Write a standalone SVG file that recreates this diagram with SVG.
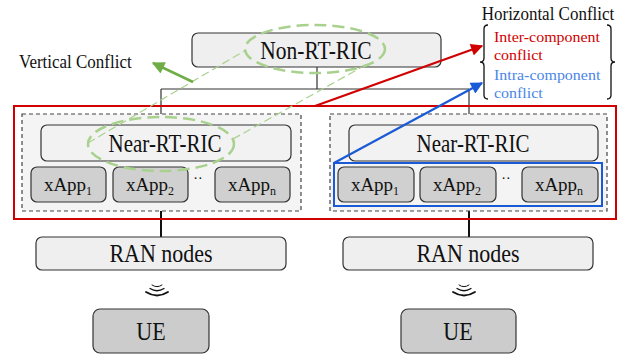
<svg xmlns="http://www.w3.org/2000/svg" width="638" height="356" viewBox="0 0 638 356" font-family="'Liberation Serif', 'DejaVu Serif', serif">
<defs>
<style>
text{font-family:'Liberation Serif','DejaVu Serif',serif;fill:#111}
.box{fill:#efefef;stroke:#333;stroke-width:1.2}
.app{fill:#d0d0d0;stroke:#333;stroke-width:1.2}
.dash{fill:#f4f4f4;stroke:#444;stroke-width:1.2;stroke-dasharray:4 3}
.gell{fill:none;stroke:#a9d18e;stroke-width:2.5;stroke-dasharray:12 6}
.gline{fill:none;stroke:#a9d18e;stroke-width:1.2;stroke-dasharray:8 4}
.wire{fill:none;stroke:#111;stroke-linecap:round}
</style>
<marker id="ag" viewBox="0 0 10 10" refX="9" refY="5" markerWidth="5.5" markerHeight="5" orient="auto" markerUnits="strokeWidth"><path d="M0,0 L10,5 L0,10 z" fill="#70ad47"/></marker>
<marker id="ar" viewBox="0 0 10 10" refX="9" refY="5" markerWidth="6.5" markerHeight="5.5" orient="auto" markerUnits="strokeWidth"><path d="M0,0 L10,5 L0,10 z" fill="#d00000"/></marker>
<marker id="ab" viewBox="0 0 10 10" refX="9" refY="5" markerWidth="6.5" markerHeight="5.5" orient="auto" markerUnits="strokeWidth"><path d="M0,0 L10,5 L0,10 z" fill="#1a5ad7"/></marker>
</defs>
<rect width="638" height="356" fill="#fff"/>

<g id="connectors">
<path d="M317,67 V89 M161,89 H469 M161,89 V114 M469,89 V114" stroke="#333" stroke-width="1.2" fill="none"/>
<path d="M161,211 V237 M469,211 V237" stroke="#111" stroke-width="2" fill="none"/>
</g>

<g id="non-rt-ric">
<rect class="box" x="192" y="33" width="249" height="34" rx="6"/>
<text transform="translate(316,59) scale(1,1.15)" font-size="21.5" text-anchor="middle">Non-RT-RIC</text>
</g>

<g id="red-region">
<rect x="14" y="106" width="602" height="113" fill="none" stroke="#d00000" stroke-width="2"/>
</g>

<g id="left-ric">
<rect class="dash" x="22" y="114" width="279" height="97"/>
<g id="left-near-rt-ric">
<rect class="box" x="41" y="125" width="250" height="36" rx="6" style="fill:#f2f2f2"/>
<text transform="translate(165,152) scale(1,1.15)" font-size="21" text-anchor="middle">Near-RT-RIC</text>
</g>
<g id="left-xapp1"><rect class="app" x="31" y="167" width="75" height="35" rx="6"/><text x="68" y="191" font-size="19" text-anchor="middle">xApp<tspan font-size="12" dy="4">1</tspan></text></g>
<g id="left-xapp2"><rect class="app" x="113" y="167" width="75" height="35" rx="6"/><text x="150" y="191" font-size="19" text-anchor="middle">xApp<tspan font-size="12" dy="4">2</tspan></text></g>
<text x="198" y="183" font-size="14" text-anchor="middle">··</text>
<g id="left-xappn"><rect class="app" x="215" y="167" width="75" height="35" rx="6"/><text x="252" y="191" font-size="19" text-anchor="middle">xApp<tspan font-size="12" dy="4">n</tspan></text></g>
</g>

<g id="right-ric">
<rect class="dash" x="330" y="114" width="277" height="97"/>
<g id="right-near-rt-ric">
<rect class="box" x="349" y="125" width="249" height="36" rx="6" style="fill:#f2f2f2"/>
<text transform="translate(473,152) scale(1,1.15)" font-size="21" text-anchor="middle">Near-RT-RIC</text>
</g>
<rect x="334" y="163" width="268" height="43" fill="none" stroke="#1a5ad7" stroke-width="2"/>
<g id="right-xapp1"><rect class="app" x="338" y="167" width="76" height="35" rx="6"/><text x="375" y="191" font-size="19" text-anchor="middle">xApp<tspan font-size="12" dy="4">1</tspan></text></g>
<g id="right-xapp2"><rect class="app" x="420" y="167" width="76" height="35" rx="6"/><text x="457" y="191" font-size="19" text-anchor="middle">xApp<tspan font-size="12" dy="4">2</tspan></text></g>
<text x="506" y="183" font-size="14" text-anchor="middle">··</text>
<g id="right-xappn"><rect class="app" x="522" y="167" width="76" height="35" rx="6"/><text x="559" y="191" font-size="19" text-anchor="middle">xApp<tspan font-size="12" dy="4">n</tspan></text></g>
</g>

<g id="left-ran">
<rect class="box" x="36" y="237" width="250" height="33" rx="6"/>
<text transform="translate(161,262) scale(1,1.15)" font-size="22" text-anchor="middle">RAN nodes</text>
</g>
<g id="right-ran">
<rect class="box" x="343" y="237" width="250" height="33" rx="6"/>
<text transform="translate(468,262) scale(1,1.15)" font-size="22" text-anchor="middle">RAN nodes</text>
</g>

<g id="left-wireless">
<path class="wire" d="M152,285 Q157,288.5 162,285" stroke-width="1"/>
<path class="wire" d="M150,288.5 Q157,293 164,288.5" stroke-width="1.3"/>
<path class="wire" d="M146,292 Q157,299 168,292" stroke-width="1.8"/>
</g>
<g id="right-wireless">
<path class="wire" d="M459,285 Q464,288.5 469,285" stroke-width="1"/>
<path class="wire" d="M457,288.5 Q464,293 471,288.5" stroke-width="1.3"/>
<path class="wire" d="M453,292 Q464,299 475,292" stroke-width="1.8"/>
</g>

<g id="left-ue">
<rect class="app" x="93" y="309" width="116" height="44" rx="7" style="fill:#cccccc"/>
<text transform="translate(151,340) scale(1,1.15)" font-size="22" text-anchor="middle">UE</text>
</g>
<g id="right-ue">
<rect class="app" x="401" y="309" width="115" height="44" rx="7" style="fill:#cccccc"/>
<text transform="translate(458,340) scale(1,1.15)" font-size="22" text-anchor="middle">UE</text>
</g>

<g id="vertical-conflict">
<ellipse class="gell" cx="315" cy="49" rx="70" ry="24"/>
<ellipse class="gell" cx="161" cy="144" rx="73" ry="27"/>
<path class="gline" d="M88,143 L246,50 M233,139 L362,67"/>
<line x1="193" y1="82" x2="153" y2="63" stroke="#70ad47" stroke-width="2.5" marker-end="url(#ag)"/>
<text transform="translate(19,68) scale(1,1.15)" font-size="17">Vertical Conflict</text>
</g>

<g id="horizontal-conflict">
<line x1="315" y1="106" x2="482" y2="46" stroke="#d00000" stroke-width="2.2" marker-end="url(#ar)"/>
<line x1="334" y1="163" x2="482" y2="83" stroke="#1a5ad7" stroke-width="2.2" marker-end="url(#ab)"/>
<text transform="translate(548,20) scale(1,1.15)" font-size="17" text-anchor="middle">Horizontal Conflict</text>
<path d="M488,25 Q484,25 484,29 V58 Q484,62 480,62 Q484,62 484,66 V95 Q484,99 488,99" fill="none" stroke="#111" stroke-width="1.3"/>
<path d="M607,25 Q611,25 611,29 V58 Q611,62 615,62 Q611,62 611,66 V95 Q611,99 607,99" fill="none" stroke="#111" stroke-width="1.3"/>
<text transform="translate(494,42) scale(1.05,1)" font-size="15.2" style="fill:#d00000">Inter-component</text>
<text transform="translate(494,60) scale(1.05,1)" font-size="15.2" style="fill:#d00000">conflict</text>
<text transform="translate(494,80) scale(1.05,1)" font-size="15.2" style="fill:#4a86e8">Intra-component</text>
<text transform="translate(494,98) scale(1.05,1)" font-size="15.2" style="fill:#4a86e8">conflict</text>
</g>
</svg>
